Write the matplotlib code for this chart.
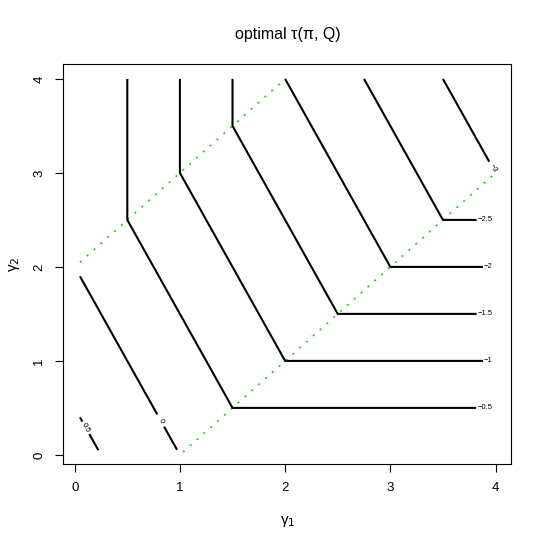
import matplotlib.pyplot as plt
import numpy as np

plt.rcParams['font.family'] = ['Liberation Sans', 'DejaVu Sans']

# contour levels and their polylines, gamma1 / gamma2
levels = ["0.5", "0", "-0.5", "-1", "-1.5", "-2", "-2.5", "-3"]
line_g1 = [
    [[0.05, 0.073], [0.139, 0.225]],
    [[0.05, 0.785], [0.85, 0.973]],
    [[0.5, 0.5, 1.5, 3.815]],
    [[1.0, 1.0, 2.0, 3.88]],
    [[1.5, 1.5, 2.5, 3.82]],
    [[2.0, 3.0, 3.88]],
    [[2.75, 3.5, 3.82]],
    [[3.5, 3.94]],
]
line_g2 = [
    [[0.40, 0.354], [0.222, 0.05]],
    [[1.90, 0.43], [0.30, 0.054]],
    [[4.0, 2.5, 0.5, 0.5]],
    [[4.0, 3.0, 1.0, 1.0]],
    [[4.0, 3.5, 1.5, 1.5]],
    [[4.0, 2.0, 2.0]],
    [[4.0, 2.5, 2.5]],
    [[4.0, 3.12]],
]
label_g1 = [0.106, 0.817, 3.905, 3.93, 3.905, 3.93, 3.905, 3.975]
label_g2 = [0.288, 0.365, 0.5, 1.0, 1.5, 2.0, 2.5, 3.05]
label_rot = [-61, -61, 0, 0, 0, 0, 0, -61]

# green dotted boundaries
upper_g1 = [0.05, 2.0]
upper_g2 = [2.05, 4.0]
lower_g1 = [1.03, 3.98]
lower_g2 = [0.03, 2.98]

fig = plt.figure(figsize=(5.45, 5.45), dpi=100)
ax = fig.add_axes([0.1162, 0.1481, 0.822, 0.734])

ax.plot(upper_g1, upper_g2, color="#00DD00", lw=1.2, dashes=(1.2, 4.3))
ax.plot(lower_g1, lower_g2, color="#00DD00", lw=1.2, dashes=(1.2, 4.3))

for k in range(len(levels)):
    for xs, ys in zip(line_g1[k], line_g2[k]):
        ax.plot(xs, ys, color="black", lw=1.5, solid_capstyle="butt")
    ax.text(label_g1[k], label_g2[k], levels[k].replace("-", "\u2212"),
            fontsize=5.5, rotation=label_rot[k], ha="center", va="center",
            rotation_mode="anchor")

ax.set_xlim(-0.108, 4.15)
ax.set_ylim(-0.10, 4.156)
ax.set_xticks([0, 1, 2, 3, 4])
ax.set_yticks([0, 1, 2, 3, 4])
ax.tick_params(length=6, labelsize=9.5, pad=7)
for t in ax.get_yticklabels():
    t.set_rotation(90)
    t.set_va("center")

ax.set_xlabel("γ$_1$", fontsize=11, labelpad=14)
ax.set_ylabel("γ$_2$", fontsize=11, labelpad=8)
ax.set_title("optimal τ(π, Q)", fontsize=11.5, pad=18)

fig.savefig("out.png", dpi=100)
